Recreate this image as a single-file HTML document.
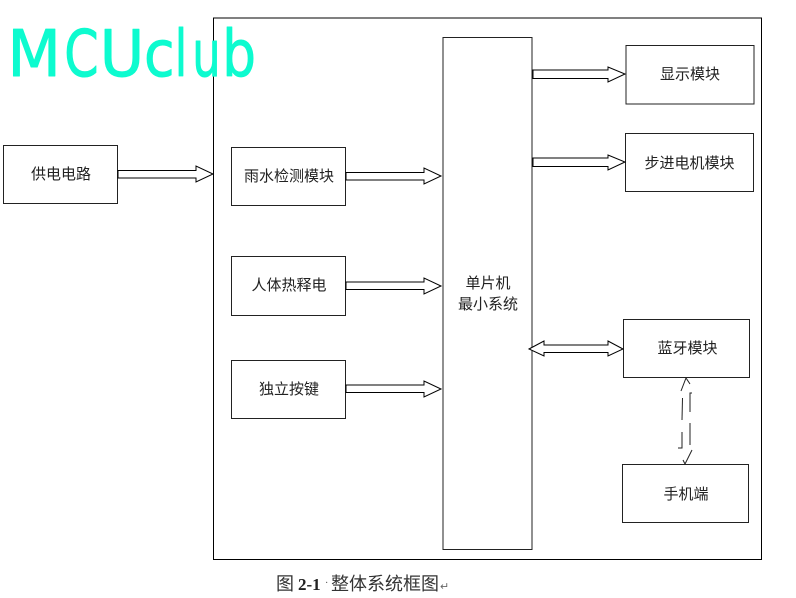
<!DOCTYPE html>
<html><head><meta charset="utf-8"><style>
html,body{margin:0;padding:0;background:#fff}
svg{display:block}
text{font-family:"Liberation Serif","Noto Sans CJK SC",sans-serif;fill:#222}
.c{font-family:"Liberation Sans","Noto Sans CJK SC",sans-serif;font-size:15px;text-anchor:middle}
.m{font-family:"DejaVu Sans",sans-serif;font-size:64px;fill:#0dfbcf;stroke:#0dfbcf;stroke-width:1;stroke-linejoin:round;stroke-linecap:round}
</style></head><body>
<svg width="796" height="598" viewBox="0 0 796 598" xmlns="http://www.w3.org/2000/svg">
<rect x="213.5" y="18" width="548" height="541.5" fill="none" stroke="#000" stroke-width="1"/>
<g fill="#fff" stroke="#222" stroke-width="1">
<rect x="3.5" y="145.5" width="114" height="58"/>
<rect x="231.5" y="147.5" width="114" height="58"/>
<rect x="231.5" y="256.5" width="114" height="59"/>
<rect x="231.5" y="360.5" width="114" height="58"/>
<rect x="443" y="37.5" width="89" height="512"/>
<rect x="626" y="45.5" width="128" height="58.5"/>
<rect x="625.5" y="133.5" width="128" height="58"/>
<rect x="623.5" y="319.5" width="126" height="58"/>
<rect x="622.5" y="464.5" width="126" height="58"/>
</g>
<g fill="#fff" stroke="#000" stroke-width="1">
<polygon points="118,170.5 196,170.5 196,166 213,174 196,182 196,178 118,178"/>
<polygon points="346,172.5 424,172.5 424,168 441,176 424,184 424,180 346,180"/>
<polygon points="346,282 424,282 424,278 441,286 424,294 424,289.5 346,289.5"/>
<polygon points="346,385 424,385 424,381 441,389 424,397 424,392.5 346,392.5"/>
<polygon points="533,70 608,70 608,67 625,74 608,82 608,78.5 533,78.5"/>
<polygon points="533,158 608,158 608,155 625,162 608,170 608,166.5 533,166.5"/>
<polygon points="529,349 544,341 544,345 608,345 608,341 623,349 608,356 608,352.5 544,352.5 544,356"/>
</g>
<g fill="none" stroke="#222" stroke-width="1">
<polyline points="681,391 686,378 690,384"/>
<line x1="682.5" y1="398" x2="682" y2="420"/>
<polyline points="692,393 690,393 690,412"/>
<polyline points="678,448 682,448 682,432"/>
<line x1="690" y1="423" x2="690" y2="445"/>
<polyline points="683,460 685,464 692,450"/>
</g>
<text class="c" x="61" y="179">供电电路</text>
<text class="c" x="289" y="181">雨水检测模块</text>
<text class="c" x="289" y="290">人体热释电</text>
<text class="c" x="289" y="394">独立按键</text>
<text class="c" x="488" y="288">单片机</text>
<text class="c" x="488" y="309">最小系统</text>
<text class="c" x="690" y="79">显示模块</text>
<text class="c" x="689.5" y="168">步进电机模块</text>
<text class="c" x="687.5" y="353">蓝牙模块</text>
<text class="c" x="686" y="499">手机端</text>
<text x="276" y="590" font-size="18" style="fill:#333">图</text>
<text x="298" y="590" font-size="17" font-weight="bold" style="fill:#222">2-1</text>
<text x="325" y="586" font-size="10" style="fill:#555">·</text>
<text x="331" y="590" font-size="18" style="fill:#333">整体系统框图</text>
<text x="440" y="590" font-size="11" style="fill:#666">↵</text>
<text class="m" transform="translate(7.4,76) scale(.97,1)">M</text>
<text class="m" transform="translate(64.2,76) scale(.77,1)">C</text>
<text class="m" transform="translate(99.7,76) scale(.95,1)">U</text>
<text class="m" transform="translate(144,76) scale(.87,1)">c</text>
<text class="m" transform="translate(174.8,76) scale(.7,1)">l</text>
<text class="m" transform="translate(192.2,76) scale(.7,1)">u</text>
<text class="m" transform="translate(222.2,76) scale(.83,1)">b</text>
</svg>
</body></html>
